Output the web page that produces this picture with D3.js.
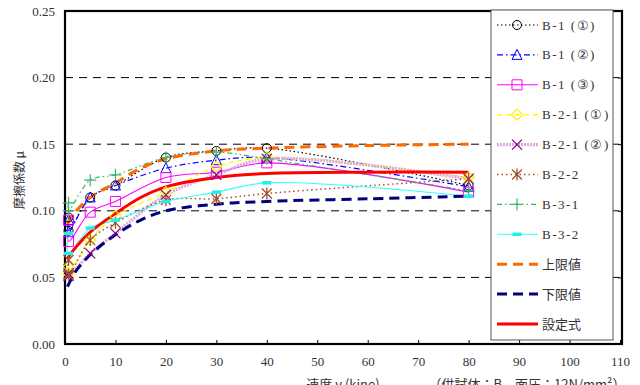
<!DOCTYPE html>
<html><head><meta charset="utf-8">
<script src="https://cdn.jsdelivr.net/npm/d3@7"></script>
<style>
html,body{margin:0;padding:0;background:#fff;}
svg{display:block;}
</style></head>
<body>
<svg id="chart" width="640" height="385"></svg>
<script>
// ---------- data ----------
const speeds = [0.7, 0.7, 5, 10, 20, 30, 40, 80];
const seriesNames = ["B-1 (①)","B-1 (②)","B-1 (③)","B-2-1 (①)","B-2-1 (②)","B-2-2","B-3-1","B-3-2"];
const b1_1  = [0.095, 0.085, 0.110, 0.119, 0.140, 0.145, 0.147, 0.119];
const b1_2  = [0.093, 0.084, 0.110, 0.119, 0.132, 0.138, 0.140, 0.118];
const b1_3  = [0.093, 0.077, 0.099, 0.107, 0.125, 0.129, 0.136, 0.114];
const b21_1 = [0.058, 0.053, 0.078, 0.096, 0.114, 0.133, 0.140, 0.125];
const b21_2 = [0.053, 0.051, 0.068, 0.083, 0.112, 0.127, 0.139, 0.124];
const b2_2  = [0.063, 0.052, 0.078, 0.091, 0.108, 0.109, 0.113, 0.124];
const b3_1  = [0.106, 0.100, 0.123, 0.127, 0.140, 0.144, 0.139, 0.115];
const b3_2  = [0.083, 0.068, 0.087, 0.093, 0.107, 0.114, 0.121, 0.111];

const limitSpeeds = [0.5, 1, 2, 5, 10, 15, 20, 30, 40, 60, 80];
const upperLimit  = [0.090, 0.094, 0.099, 0.110, 0.121, 0.132, 0.139, 0.145, 0.147, 0.149, 0.150];
const lowerLimit  = [0.043, 0.047, 0.054, 0.067, 0.082, 0.093, 0.100, 0.105, 0.107, 0.109, 0.111];
const designEq    = [0.064, 0.067, 0.072, 0.084, 0.098, 0.110, 0.118, 0.125, 0.128, 0.129, 0.129];
const limitNames = ["上限値","下限値","設定式"];

const xTicks = [0,10,20,30,40,50,60,70,80,90,100,110];
const yTicks = [0,0.05,0.10,0.15,0.20,0.25];

// ---------- layout ----------
const svg = d3.select("#chart");
const X0 = 65, X1 = 620, Y0 = 344, Y1 = 11;
const x = d3.scaleLinear().domain([0,110]).range([X0,X1]);
const y = d3.scaleLinear().domain([0,0.25]).range([Y0,Y1]);
const numFont = "'Liberation Serif','DejaVu Serif',serif";
const jpFont = "'Noto Sans CJK JP','Noto Sans',sans-serif";

// gridlines
svg.append("g").selectAll("line").data(yTicks.filter(t=>t>0 && t<0.25)).join("line")
  .attr("x1",X0).attr("x2",X1).attr("y1",d=>y(d)).attr("y2",d=>y(d))
  .attr("stroke","#000").attr("stroke-width",1).attr("stroke-dasharray","8,6");

// axes
const gx = svg.append("g").attr("transform",`translate(0,${Y0})`)
  .call(d3.axisBottom(x).tickValues(xTicks).tickSizeInner(-4).tickSizeOuter(0).tickPadding(13).tickFormat(d3.format("d")));
gx.select(".domain").remove();
gx.selectAll("text").attr("font-family",numFont).attr("font-size",13).attr("fill","#333");
gx.selectAll("line").attr("stroke","#000");

const gy = svg.append("g").attr("transform",`translate(${X0},0)`)
  .call(d3.axisLeft(y).tickValues(yTicks).tickSize(0).tickPadding(10).tickFormat(d3.format(".2f")));
gy.select(".domain").remove();
gy.selectAll("text").attr("font-family",numFont).attr("font-size",13).attr("fill","#333");

const gr = svg.append("g").attr("transform",`translate(${X1+2},0)`)
  .call(d3.axisRight(y).tickValues(yTicks.filter(t=>t>0&&t<0.25)).tickSizeInner(-4).tickSizeOuter(0).tickFormat(""));
gr.select(".domain").remove();
gr.selectAll("line").attr("stroke","#000");

// frame
svg.append("rect").attr("x",X0).attr("y",Y1).attr("width",X1+2-X0).attr("height",Y0-Y1)
  .attr("fill","none").attr("stroke","#000").attr("stroke-width",2.2);

// ---------- marker paths ----------
function marker(type, s){
  const r = s/2;
  switch(type){
    case "circle": return `M${-r},0a${r},${r} 0 1,0 ${2*r},0a${r},${r} 0 1,0 ${-2*r},0`;
    case "triangle": return `M0,${-r-1}L${r+0.5},${r}L${-r-0.5},${r}Z`;
    case "square": return `M${-r},${-r}h${2*r}v${2*r}h${-2*r}Z`;
    case "diamond": return `M0,${-r-1}L${r+1},0L0,${r+1}L${-r-1},0Z`;
    case "x": return `M${-r},${-r}L${r},${r}M${-r},${r}L${r},${-r}`;
    case "asterisk": return `M${-r},${-r}L${r},${r}M${-r},${r}L${r},${-r}M0,${-r-1}L0,${r+1}`;
    case "plus": return `M${-r-1},0L${r+1},0M0,${-r-1}L0,${r+1}`;
    case "bar": return `M${-r},0L${r},0`;
  }
}

const seriesData = [b1_1,b1_2,b1_3,b21_1,b21_2,b2_2,b3_1,b3_2];
const styles = [
  {color:"#000000", w:1.2, dash:"1.5,2.5", m:"circle", mc:"#000", ms:9, mw:1},
  {color:"#0000ff", w:1.2, dash:"6,3,1.5,3", m:"triangle", mc:"#0000ff", ms:9, mw:1},
  {color:"#ff00ff", w:1.1, dash:null, m:"square", mc:"#ff00ff", ms:10, mw:1},
  {color:"#ffff00", w:1.5, dash:"5,4", m:"diamond", mc:"#ffee00", ms:9, mw:1.2},
  {color:"#dcaadc", w:3.2, dash:"2,1", m:"x", mc:"#800080", ms:10, mw:1.2},
  {color:"#a0522d", w:1.5, dash:"1.5,3", m:"asterisk", mc:"#a0522d", ms:10, mw:1.3},
  {color:"#3cb371", w:1.2, dash:"5,3,1.5,3,1.5,3", m:"plus", mc:"#3cb371", ms:10, mw:1.2},
  {color:"#33ffff", w:1.1, dash:null, m:"bar", mc:"#22eeee", ms:9, mw:3.5}
];

const line = d3.line().x(d=>x(d[0])).y(d=>y(d[1])).curve(d3.curveCatmullRom.alpha(0.5));

const plot = svg.append("g");
const limitData = [upperLimit, lowerLimit, designEq];
const limitStyles = [
  {color:"#ff6a00", w:3, dash:"10,6"},
  {color:"#000080", w:3, dash:"10,6"},
  {color:"#ff0000", w:3, dash:null}
];

// series lines
seriesData.forEach((vals,i)=>{
  const st = styles[i];
  const pts = speeds.map((s,k)=>[s,vals[k]]);
  plot.append("path").attr("d",line(pts)).attr("fill","none")
    .attr("stroke",st.color).attr("stroke-width",st.w)
    .attr("stroke-dasharray",st.dash);
});
limitData.forEach((vals,i)=>{
  const st = limitStyles[i];
  const pts = limitSpeeds.map((s,k)=>[s,vals[k]]);
  plot.append("path").attr("d",line(pts)).attr("fill","none")
    .attr("stroke",st.color).attr("stroke-width",st.w)
    .attr("stroke-dasharray",st.dash);
});
// markers
seriesData.forEach((vals,i)=>{
  const st = styles[i];
  plot.append("g").selectAll("path").data(speeds.map((s,k)=>[s,vals[k]])).join("path")
    .attr("transform",d=>`translate(${x(d[0])},${y(d[1])})`)
    .attr("d",marker(st.m,st.ms)).attr("fill","none")
    .attr("stroke",st.mc).attr("stroke-width",st.mw);
});

// ---------- legend ----------
const lg = svg.append("g");
lg.append("rect").attr("x",491).attr("y",10).attr("width",122).attr("height",330)
  .attr("fill","#fff").attr("stroke","#555").attr("stroke-width",1);
const allNames = seriesNames.concat(limitNames);
allNames.forEach((name,i)=>{
  const yy = 25 + i*29.9;
  const st = i<8 ? styles[i] : limitStyles[i-8];
  lg.append("line").attr("x1",497).attr("x2",538).attr("y1",yy).attr("y2",yy)
    .attr("stroke",st.color).attr("stroke-width",st.w).attr("stroke-dasharray",st.dash);
  if(i<8){
    lg.append("path").attr("transform",`translate(517,${yy})`).attr("d",marker(st.m,st.ms))
      .attr("fill","none").attr("stroke",st.mc).attr("stroke-width",st.mw);
  }
  lg.append("text").attr("x",542).attr("y",yy+4.5).text(name)
    .attr("font-family", i<8 ? numFont : jpFont).attr("font-size",13)
    .attr("letter-spacing", i<8 ? 1.5 : 0).attr("fill","#333");
});

// ---------- axis titles ----------
svg.append("text").attr("transform","translate(24,180) rotate(-90)")
  .attr("text-anchor","middle").attr("font-family",jpFont).attr("font-size",12).attr("fill","#333")
  .text("摩擦係数 μ");
svg.append("text").attr("x",343).attr("y",389).attr("text-anchor","middle")
  .attr("font-family",jpFont).attr("font-size",13).attr("fill","#333").text("速度 v (kine)");
svg.append("text").attr("x",527).attr("y",389).attr("text-anchor","middle")
  .attr("font-family",jpFont).attr("font-size",13).attr("fill","#333").text("（供試体：B　面圧：12N/mm²）");
</script>
</body></html>
